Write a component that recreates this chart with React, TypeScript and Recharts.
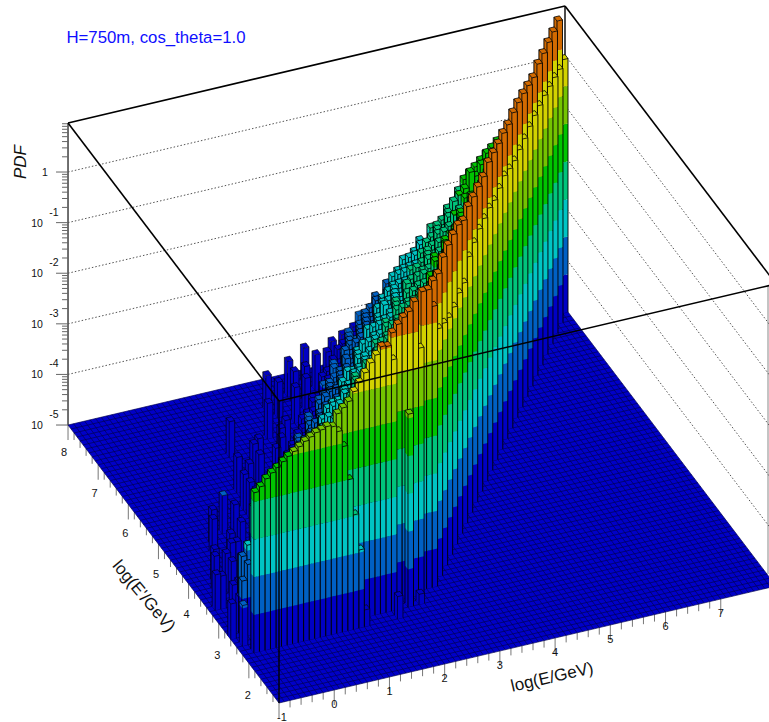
import { ScatterChart, Scatter, XAxis, YAxis } from "recharts"

const WIDTH = 769
const HEIGHT = 722

// bins: 90 in log(E), 70 in log(E'), pdf values are log10
const X_BINS = 90
const Y_BINS = 70
const Z_MIN = -5
const Z_MAX = 0.97

const bandColors = ["#0000c4", "#0060c4", "#00c4c4", "#00c47c", "#00c400", "#74c400", "#d2d200", "#d26a00"]
const bandEdges = [-5, -4.255, -3.51, -2.765, -2.02, -1.275, -0.53, 0.215, 9]

const xTicks = [-1, 0, 1, 2, 3, 4, 5, 6, 7]
const yTicks = [2, 3, 4, 5, 6, 7, 8]
const zDecades = [-5, -4, -3, -2, -1, 0]

// front wall, first rows of the ridge
const wallRow12 = [-1.84, -1.75, -1.62, -1.53, -1.45, -1.36, -1.28, -1.21, -1.14, -1.06, -1.0, -0.94, -0.91, -0.87, -0.9, -1.02, -1.34, -2.02, -2.74, -3.46, -4.67]
const wallRow14 = [-0.85, -0.76, -0.66, -0.49, -0.34, -0.17, 0, 0.13, 0.27, 0.25, -0.04]
const wallRow16 = [0.31, 0.45, 0.56, 0.65, 0.82, -0.12]
const wallRow17 = [0.89, 0.9, 0.55]

// two last bins of each row along the diagonal
const ridgeRows = [19, 21, 23, 25, 27, 29, 31, 33, 35, 37, 39, 41, 43, 45, 47, 49, 51, 53, 55, 57, 59, 61, 63, 65, 67, 69]
const ridgePeak = [0.87, 0.8, 0.92, 0.95, 0.95, 0.93, 0.81, 0.88, 0.86, 0.85, 0.84, 0.92, 0.9, 0.87, 0.87, 0.83, 0.86, 0.85, 0.82, 0.77, 0.72, 0.78, 0.78, 0.79, 0.79, 0.8]
const ridgeEnd = [-0.1, -0.2, -0.3, -0.3, -0.23, -0.24, 0.07, 0.14, 0.2, 0.2, 0.2, 0.14, 0.17, 0.21, 0.14, 0.09, 0.1, 0.11, 0.14, 0.15, 0.14, 0.13, 0.1, 0.07, 0.02, 0.01]

// noisy tail behind the ridge, tenths of a decade, walking away from the diagonal
const tail69 = [-13, -14, -15, -16, -17, -18, -19, -21, -25, -24, -26, -28, -27, -30, -29, -31, -33, -32, -34, -37, -36, -39, -38, -40, -42, -41, -43, -45, -44]
const tail67 = [-14, -13, -15, -17, -16, -19, -20, -21, -23, -26, -25, -27, -29, -28, -31, -30, -32, -34, -33, -36, -38, -37, -40, -39, -41, -43, -42, -44, -46]
const tail65 = [-15, -17, -19, -20, -19, -21, -23, -22, -25, -24, -27, -26, -29, -28, -30, -32, -31, -33, -35, -35, -37, -39, -38, -40, -42, -41, -44, -43, -45]
const tail63 = [-17, -18, -17, -20, -21, -20, -22, -24, -23, -25, -27, -26, -28, -30, -29, -31, -33, -32, -34, -36, -38, -37, -39, -41, -40, -42, -44, -43, -45]
const tail61 = [-16, -16, -19, -18, -21, -22, -21, -23, -25, -24, -26, -28, -27, -29, -31, -30, -32, -34, -33, -37, -36, -38, -40, -39, -41, -43, -42, -45, -44]
const tail59 = [-15, -18, -17, -19, -20, -22, -21, -24, -23, -26, -25, -27, -28, -30, -29, -32, -31, -33, -35, -35, -38, -37, -39, -38, -42, -41, -43, -44, -46]
const tail57 = [-17, -16, -18, -20, -19, -21, -23, -22, -24, -25, -27, -26, -29, -28, -31, -29, -32, -34, -33, -36, -37, -39, -38, -40, -41, -43, -42, -45, -44]
const tail55 = [-16, -17, -19, -18, -21, -20, -22, -24, -23, -26, -24, -28, -27, -29, -30, -32, -31, -34, -35, -35, -38, -36, -39, -41, -40, -42, -44, -43, -45]
const tail53 = [-15, -17, -18, -19, -19, -22, -21, -23, -25, -24, -27, -26, -28, -30, -29, -31, -33, -32, -34, -37, -36, -38, -40, -39, -42, -41, -43, -45, -44]
const tail51 = [-16, -16, -18, -20, -20, -21, -23, -22, -24, -26, -25, -28, -27, -29, -31, -30, -33, -32, -35, -36, -37, -39, -38, -41, -40, -43, -42, -44, -46]
const tail49 = [-17, -17, -19, -18, -21, -21, -22, -24, -23, -25, -27, -26, -29, -28, -30, -32, -31, -34, -33, -37, -36, -39, -37, -40, -42, -41, -44, -43, -45]
const tail47 = [-15, -16, -18, -19, -20, -22, -21, -23, -25, -24, -26, -28, -27, -30, -29, -31, -32, -34, -33, -36, -38, -37, -39, -41, -40, -43, -42, -44, -45]
const tail45 = [-16, -18, -17, -20, -19, -21, -23, -22, -24, -26, -25, -27, -29, -28, -31, -30, -32, -34, -35, -35, -37, -39, -38, -40, -42, -41, -43, -45, -44]
const tail43 = [-21, -24, -23, -26, -25, -27, -29, -28, -30, -32, -31, -34, -33, -37, -36, -38, -40, -39, -41, -43, -42, -44, -46]
const tail41 = [-24, -23, -26, -25, -28, -27, -30, -29, -31, -33, -32, -35, -37, -36, -39, -38, -41, -40, -43, -42, -45]
const tail39 = [-25, -27, -26, -29, -28, -31, -30, -33, -32, -35, -37, -36, -39, -38, -40, -42, -41, -44, -45]
const tail37 = [-27, -29, -28, -31, -30, -32, -34, -33, -36, -38, -37, -39, -41, -40, -43, -42, -44]
const tail35 = [-29, -31, -30, -33, -32, -34, -37, -35, -38, -40, -39, -42, -41, -44, -43]
const tail33 = [-31, -33, -32, -35, -37, -36, -39, -38, -40, -42, -41, -44]
const tail31 = [-34, -36, -35, -38, -37, -40, -39, -42, -41]
const tail29 = [-35, -37, -36, -39, -38, -41, -40]
const tail27 = [-36, -38, -37, -40, -39]
const tail25 = [-37, -39, -38]

const tailBlocks: [number, number, number[]][] = [
  [69, 12, tail69], [67, 12, tail67], [65, 12, tail65], [63, 12, tail63], [61, 12, tail61], [59, 12, tail59],
  [57, 12, tail57], [55, 12, tail55], [53, 12, tail53], [51, 12, tail51], [49, 12, tail49], [47, 12, tail47],
  [45, 12, tail45], [43, 18, tail43], [41, 20, tail41], [39, 22, tail39], [37, 24, tail37], [35, 26, tail35],
  [33, 28, tail33], [31, 30, tail31], [29, 31, tail29], [27, 32, tail27], [25, 33, tail25],
]

// isolated low bars
const sparseX = [8, 11, 18, 22, 3, 19, 25, 22, 17, 17, 11, 8, 8, 1, 3, 4, 37, 41, 42, 32, 37, 33, 38, 44, 46, 1, 2, 3, 4, 3, 4, 11, 15, 12, 17, 7, 4, 5, 7, 2, 0, 2, 5, 27, 30, 28, 24, 26, 23, 21, 28, 33, 31, 21, 35, 39, 43, 29]
const sparseY = [37, 39, 47, 49, 27, 45, 47, 47, 43, 39, 33, 31, 29, 23, 21, 21, 65, 67, 65, 63, 63, 61, 61, 65, 67, 14, 16, 16, 18, 18, 20, 29, 33, 37, 41, 35, 29, 27, 29, 23, 16, 17, 25, 49, 53, 51, 51, 45, 43, 39, 12, 14, 14, 55, 59, 63, 61, 57]
const sparseZ = [-4.3, -4.25, -4.3, -4.3, -4.3, -4.3, -4.3, -4.35, -4.3, -4.3, -4.3, -4.3, -4.3, -4.3, -4.4, -4.35, -4.3, -4.3, -4.3, -4.3, -4.35, -4.3, -4.35, -4.3, -4.3, -4.2, -3.9, -3.6, -3.4, -3.6, -3.8, -3.7, -3.7, -4.3, -4.3, -4.3, -4.35, -4.3, -4.3, -4.35, -4.3, -4.3, -4.3, -4.3, -4.35, -4.3, -4.4, -4.3, -4.35, -4.4, -4.56, -4.8, -1.19, -4.3, -4.3, -4.3, -4.3, -4.3]

const DU = { x: 5.522, y: -1.3 }
const DV = { x: -3.014, y: -3.971 }
const DECADE = 50.6
const ORIGIN = { x: 279, y: 703 }

const at = (i: number, j: number, z = Z_MIN) => ({
  sx: ORIGIN.x + DU.x * i + DV.x * j,
  sy: ORIGIN.y + DU.y * i + DV.y * j - (z - Z_MIN) * DECADE,
})

type Cell = { i: number; j: number; z: number }

const cells: Cell[] = []
wallRow12.forEach((z, k) => cells.push({ i: 2 + k, j: 12, z }))
wallRow14.forEach((z, k) => cells.push({ i: 18 + k, j: 14, z }))
wallRow16.forEach((z, k) => cells.push({ i: 29 + k, j: 16, z }))
wallRow17.forEach((z, k) => cells.push({ i: 35 + k, j: 17, z }))
ridgeRows.forEach((j, k) => {
  cells.push({ i: j + 19, j, z: ridgePeak[k] })
  cells.push({ i: j + 20, j, z: ridgeEnd[k] })
})
tailBlocks.forEach(([j, first, values]) => {
  values.forEach((v, k) => cells.push({ i: j + 20 - first - k, j, z: v / 10 }))
})
sparseX.forEach((i, k) => cells.push({ i, j: sparseY[k], z: sparseZ[k] }))
cells.sort((a, b) => b.i + b.j - (a.i + a.j))

const columnData = cells.map((c) => ({ ...at(c.i, c.j), z: c.z }))

const pts = (list: number[][]) => list.map((p) => p.join(",")).join(" ")

function ColumnShape(props: any) {
  const { cx, cy, payload } = props
  const z = payload.z
  const faces: any[] = []
  bandColors.forEach((color, k) => {
    const lo = bandEdges[k]
    const hi = Math.min(bandEdges[k + 1], z)
    if (hi <= lo) return
    const y0 = cy - (lo - Z_MIN) * DECADE
    const y1 = cy - (hi - Z_MIN) * DECADE
    faces.push(
      <polygon key={`a${k}`} fill={color} points={pts([[cx, y0], [cx + DU.x, y0 + DU.y], [cx + DU.x, y1 + DU.y], [cx, y1]])} />,
      <polygon key={`b${k}`} fill={color} points={pts([[cx, y0], [cx + DV.x, y0 + DV.y], [cx + DV.x, y1 + DV.y], [cx, y1]])} />,
    )
  })
  const top = cy - (z - Z_MIN) * DECADE
  const band = bandEdges.findIndex((e, k) => z >= e && z < bandEdges[k + 1])
  const edge = z < -4 ? 0.65 : 0.9
  return (
    <g stroke="none">
      {faces}
      <polygon
        fill={bandColors[band]}
        stroke="#000"
        strokeWidth={z < -4 ? 0.6 : 0.8}
        points={pts([[cx, top], [cx + DU.x, top + DU.y], [cx + DU.x + DV.x, top + DU.y + DV.y], [cx + DV.x, top + DV.y]])}
      />
      <line x1={cx} y1={cy} x2={cx} y2={top} stroke="#000" strokeWidth={edge} />
      <line x1={cx + DU.x} y1={cy + DU.y} x2={cx + DU.x} y2={top + DU.y} stroke="#000" strokeWidth={edge} />
      <line x1={cx + DV.x} y1={cy + DV.y} x2={cx + DV.x} y2={top + DV.y} stroke="#000" strokeWidth={edge} />
    </g>
  )
}

type Seg = { sx: number; sy: number; dx: number; dy: number; stroke: string; width: number; dash?: string }

const seg = (x1: number, y1: number, x2: number, y2: number, stroke: string, width: number, dash?: string): Seg => ({
  sx: x1, sy: y1, dx: x2 - x1, dy: y2 - y1, stroke, width, dash,
})

function SegShape(props: any) {
  const { cx, cy, payload } = props
  return (
    <line
      x1={cx}
      y1={cy}
      x2={cx + payload.dx}
      y2={cy + payload.dy}
      stroke={payload.stroke}
      strokeWidth={payload.width}
      strokeDasharray={payload.dash}
    />
  )
}

const c00 = at(0, 0)
const c10 = at(X_BINS, 0)
const c01 = at(0, Y_BINS)
const c11 = at(X_BINS, Y_BINS)
const boxH = (Z_MAX - Z_MIN) * DECADE

function FloorShape(props: any) {
  const { cx, cy } = props
  const rel = (p: { sx: number; sy: number }) => [cx + p.sx - c00.sx, cy + p.sy - c00.sy]
  return <polygon fill="#0000c8" points={pts([rel(c00), rel(c10), rel(c11), rel(c01)])} />
}

const floorLines: Seg[] = []
for (let i = 0; i <= X_BINS; i++) {
  const a = at(i, 0)
  const b = at(i, Y_BINS)
  floorLines.push(seg(a.sx, a.sy, b.sx, b.sy, "#00004c", 0.65))
}
for (let j = 0; j <= Y_BINS; j++) {
  const a = at(0, j)
  const b = at(X_BINS, j)
  floorLines.push(seg(a.sx, a.sy, b.sx, b.sy, "#00004c", 0.65))
}

const backLines: Seg[] = [
  seg(c01.sx, c01.sy - boxH, c11.sx, c11.sy - boxH, "#000", 1.6),
  seg(c11.sx, c11.sy - boxH, c10.sx, c10.sy - boxH, "#000", 1.6),
  seg(c11.sx, c11.sy, c11.sx, c11.sy - boxH, "#000", 1.4),
  seg(c01.sx, c01.sy, c01.sx, c01.sy - boxH, "#333", 1.4),
  seg(WIDTH - 1, c10.sy - boxH - 8 * (DU.y / DU.x), WIDTH - 1, c10.sy - 12, "#888", 1),
]
zDecades.slice(1).forEach((d) => {
  const lift = (d - Z_MIN) * DECADE
  backLines.push(seg(c01.sx, c01.sy - lift, c11.sx, c11.sy - lift, "#555", 1, "1.5 2"))
  backLines.push(seg(c11.sx, c11.sy - lift, c10.sx, c10.sy - lift, "#555", 1, "1.5 2"))
})

// axis ticks
const zMinor = [2, 3, 4, 5, 6, 7, 8, 9]
const tickLines: Seg[] = []
for (let k = 0; k <= 40; k++) {
  const p = at(k * 2, 0)
  tickLines.push(seg(p.sx, p.sy, p.sx, p.sy + (k % 5 === 0 ? 15 : 7), "#777", 1))
}
for (let k = 0; k <= 34; k++) {
  const p = at(0, Y_BINS - k * 2)
  tickLines.push(seg(p.sx, p.sy, p.sx, p.sy + (k % 5 === 0 ? 15 : 7), "#777", 1))
}
zDecades.forEach((d) => {
  const y = c01.sy - (d - Z_MIN) * DECADE
  tickLines.push(seg(c01.sx - 12, y, c01.sx, y, "#666", 1))
  zMinor.forEach((m) => {
    const ym = y - Math.log10(m) * DECADE
    if (ym >= c01.sy - boxH) tickLines.push(seg(c01.sx - 6, ym, c01.sx, ym, "#666", 1))
  })
})

const frontLines: Seg[] = [
  seg(c01.sx, c01.sy - boxH, c00.sx, c00.sy - boxH, "#000", 1.6),
  seg(c00.sx, c00.sy - boxH, c10.sx, c10.sy - boxH, "#000", 1.6),
  seg(c00.sx, c00.sy, c00.sx, c00.sy - boxH, "#000", 1.4),
]

type Label = { sx: number; sy: number; text: string; size: number; color?: string; rotate?: number; italic?: boolean }

const labels: Label[] = [
  { sx: 156, sy: 37, text: "H=750m, cos_theta=1.0", size: 16.8, color: "#0f0fff" },
  { sx: 20, sy: 162, text: "PDF", size: 17, rotate: -90, italic: true },
  { sx: 552, sy: 677, text: "log(E/GeV)", size: 17, rotate: -13 },
  { sx: 144, sy: 596, text: "log(E'/GeV)", size: 17, rotate: 50 },
]
xTicks.forEach((v) => {
  const p = at((v + 1) * 10, 0)
  labels.push({ sx: p.sx + (v < 0 ? 3 : 0), sy: p.sy + 14, text: String(v), size: 11 })
})
yTicks.forEach((v) => {
  labels.push({ sx: 64 + (8 - v) * 30.65, sy: 452 + (8 - v) * 40.5, text: String(v), size: 11 })
})
zDecades.forEach((d) => {
  const y = c01.sy - (d - Z_MIN) * DECADE
  if (d === 0) {
    labels.push({ sx: 45, sy: y, text: "1", size: 10.5 })
  } else {
    labels.push({ sx: 37, sy: y, text: "10", size: 10.5 })
    labels.push({ sx: 54, sy: y - 11, text: String(d), size: 10.5 })
  }
})

function LabelShape(props: any) {
  const { cx, cy, payload } = props
  return (
    <text
      x={cx}
      y={cy}
      textAnchor="middle"
      dominantBaseline="central"
      fontFamily="'Liberation Sans', Arial, sans-serif"
      fontSize={payload.size}
      fontStyle={payload.italic ? "italic" : "normal"}
      fill={payload.color || "#111"}
      transform={payload.rotate ? `rotate(${payload.rotate} ${cx} ${cy})` : undefined}
    >
      {payload.text}
    </text>
  )
}

export default function App() {
  return (
    <div style={{ position: "absolute", left: 0, top: 0, width: WIDTH, height: HEIGHT, background: "#fff" }}>
      <ScatterChart width={WIDTH} height={HEIGHT} margin={{ top: 0, right: 0, bottom: 0, left: 0 }}>
        <XAxis dataKey="sx" type="number" domain={[0, WIDTH]} hide allowDataOverflow />
        <YAxis dataKey="sy" type="number" domain={[0, HEIGHT]} reversed hide allowDataOverflow />
        <Scatter data={backLines} shape={SegShape} isAnimationActive={false} />
        <Scatter data={tickLines} shape={SegShape} isAnimationActive={false} />
        <Scatter data={[c00]} shape={FloorShape} isAnimationActive={false} />
        <Scatter data={floorLines} shape={SegShape} isAnimationActive={false} />
        <Scatter data={columnData} shape={ColumnShape} isAnimationActive={false} />
        <Scatter data={frontLines} shape={SegShape} isAnimationActive={false} />
        <Scatter data={labels} shape={LabelShape} isAnimationActive={false} />
      </ScatterChart>
    </div>
  )
}
